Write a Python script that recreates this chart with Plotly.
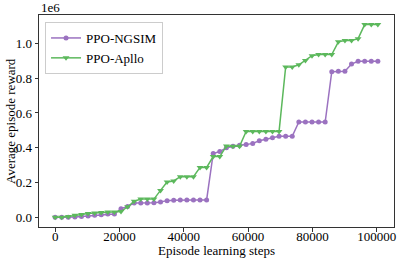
import plotly.graph_objects as go

# Episode learning steps (x) - 50 rollouts of 2048 steps
steps = [0, 2048, 4096, 6144, 8192, 10240, 12288, 14336, 16384, 18432,
         20480, 22528, 24576, 26624, 28672, 30720, 32768, 34816, 36864, 38912,
         40960, 43008, 45056, 47104, 49152, 51200, 53248, 55296, 57344, 59392,
         61440, 63488, 65536, 67584, 69632, 71680, 73728, 75776, 77824, 79872,
         81920, 83968, 86016, 88064, 90112, 92160, 94208, 96256, 98304, 100352]

# Average episode reward (in units of 1e6)
reward_ngsim = [0.0, 0.0, 0.0, 0.002, 0.005, 0.008, 0.012, 0.015, 0.019, 0.019,
                0.05, 0.063, 0.082, 0.082, 0.082, 0.084, 0.088, 0.096, 0.098, 0.1,
                0.1, 0.1, 0.1, 0.1, 0.367, 0.378, 0.4, 0.408, 0.414, 0.418,
                0.425, 0.44, 0.449, 0.457, 0.466, 0.466, 0.466, 0.548, 0.548, 0.548,
                0.548, 0.548, 0.837, 0.839, 0.839, 0.881, 0.897, 0.897, 0.897, 0.897]

reward_apllo = [0.0, 0.0, 0.005, 0.012, 0.017, 0.022, 0.025, 0.028, 0.03, 0.03,
                0.033, 0.061, 0.092, 0.105, 0.105, 0.105, 0.155, 0.203, 0.209, 0.234,
                0.234, 0.234, 0.287, 0.287, 0.349, 0.349, 0.41, 0.408, 0.408, 0.494,
                0.494, 0.494, 0.494, 0.494, 0.494, 0.864, 0.864, 0.877, 0.902, 0.929,
                0.936, 0.936, 0.936, 1.009, 1.017, 1.017, 1.027, 1.108, 1.108, 1.108]

x_ticks = [0, 20000, 40000, 60000, 80000, 100000]
y_ticks = [0.0, 0.2, 0.4, 0.6, 0.8, 1.0]

FONT = "Liberation Serif"
PURPLE = "#9b72c0"
GREEN = "#5cb85c"
TXT = dict(family=FONT, size=13, color="#000000")

fig = go.Figure()
fig.add_trace(go.Scatter(
    x=steps, y=reward_ngsim, name="PPO-NGSIM", mode="lines+markers",
    line=dict(color=PURPLE, width=1.5),
    marker=dict(symbol="circle", size=5, color=PURPLE),
))
fig.add_trace(go.Scatter(
    x=steps, y=reward_apllo, name="PPO-Apllo", mode="lines+markers",
    line=dict(color=GREEN, width=1.5),
    marker=dict(symbol="triangle-down", size=6, color=GREEN),
))

axis_common = dict(
    showline=True, linecolor="#333333", linewidth=1, mirror=True,
    ticks="outside", ticklen=3.5, tickwidth=1, tickcolor="#333333",
    showgrid=False, zeroline=False, automargin=False,
    tickfont=TXT,
)

fig.update_xaxes(range=[-5018, 105370], tickvals=x_ticks, tickformat="d",
                 ticklabelstandoff=-6, **axis_common)
fig.update_yaxes(range=[-0.0555, 1.163], tickvals=y_ticks, tickformat=".1f", **axis_common)

# axis titles and offset text
fig.add_annotation(text="Episode learning steps", xref="paper", yref="paper", x=0.5, y=0,
                   xanchor="center", yanchor="middle", yshift=-23, showarrow=False, font=TXT)
fig.add_annotation(text="Average episode reward", xref="paper", yref="paper", x=0, y=0.5,
                   xanchor="center", yanchor="middle", xshift=-29, textangle=-90,
                   showarrow=False, font=TXT)
fig.add_annotation(text="1e6", xref="paper", yref="paper", x=0, y=1.0, xanchor="left",
                   yanchor="bottom", showarrow=False, font=TXT, yshift=-2)

fig.update_layout(
    width=402, height=262,
    margin=dict(l=39, r=8, t=15, b=35),
    paper_bgcolor="white", plot_bgcolor="white",
    font=TXT,
    legend=dict(
        x=0.017, y=0.967, xanchor="left", yanchor="top",
        bgcolor="rgba(255,255,255,0.8)", bordercolor="#cccccc", borderwidth=1,
        font=TXT, tracegroupgap=0,
    ),
    showlegend=True,
)

fig.write_html("out.html", config={"displayModeBar": False},
               post_script="document.body.style.margin='0';")
